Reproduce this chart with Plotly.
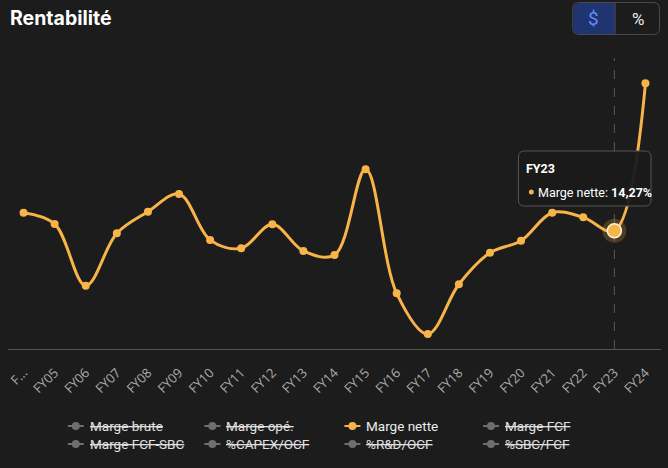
import plotly.graph_objects as go

# ---- data ----
categories = ["FY04", "FY05", "FY06", "FY07", "FY08", "FY09", "FY10", "FY11", "FY12", "FY13",
              "FY14", "FY15", "FY16", "FY17", "FY18", "FY19", "FY20", "FY21", "FY22", "FY23", "FY24"]
tick_labels = ["F..."] + categories[1:]
marge_nette = [16.45, 15.09, 7.64, 13.96, 16.57, 18.71, 13.16, 12.15, 15.05, 11.83,
               11.34, 21.69, 6.72, 1.81, 7.81, 11.62, 13.07, 16.45, 15.89, 14.27, 32.07]
legend_names = ["Marge brute", "Marge opé.", "Marge nette", "Marge FCF",
                "Marge FCF-SBC", "%CAPEX/OCF", "%R&D/OCF", "%SBC/FCF"]
legend_active = [False, False, True, False, False, False, False, False]
hover_cat = "FY23"
hover_label = "14,27%"

# ---- style ----
BG = "#1c1c1c"
ORANGE = "#f8b449"
W, H = 668, 468
ML, MR, MT, MB = 6, 7, 59, 119
PW, PH = W - ML - MR, H - MT - MB


def X(px):
    return (px - ML) / PW


def Y(py):
    return (H - MB - py) / PH


def rrect(x0, y0, x1, y1, r):
    return (f"M {X(x0 + r)},{Y(y0)} L {X(x1 - r)},{Y(y0)} Q {X(x1)},{Y(y0)} {X(x1)},{Y(y0 + r)} "
            f"L {X(x1)},{Y(y1 - r)} Q {X(x1)},{Y(y1)} {X(x1 - r)},{Y(y1)} "
            f"L {X(x0 + r)},{Y(y1)} Q {X(x0)},{Y(y1)} {X(x0)},{Y(y1 - r)} "
            f"L {X(x0)},{Y(y0 + r)} Q {X(x0)},{Y(y0)} {X(x0 + r)},{Y(y0)} Z")


fig = go.Figure()
fig.add_trace(go.Scatter(
    x=categories, y=marge_nette, mode="lines+markers",
    line=dict(color=ORANGE, width=3, shape="spline", smoothing=1),
    marker=dict(color=ORANGE, size=8), name="Marge nette", showlegend=False,
    hoverinfo="skip"))

hi = categories.index(hover_cat)
fig.add_trace(go.Scatter(
    x=[categories[hi]], y=[marge_nette[hi]], mode="markers",
    marker=dict(color="rgba(248,180,73,0.22)", size=24), showlegend=False, hoverinfo="skip"))
fig.add_trace(go.Scatter(
    x=[categories[hi]], y=[marge_nette[hi]], mode="markers",
    marker=dict(color=ORANGE, size=14, line=dict(color="#fff3dc", width=1.5)),
    showlegend=False, hoverinfo="skip"))

shapes = []
annotations = []

# hover dashed line
shapes.append(dict(type="line", xref="x", yref="paper", x0=hi, x1=hi, y0=0, y1=Y(58),
                   line=dict(color="#5a5a5a", width=1, dash="dash"), layer="below"))

# title
annotations.append(dict(text="<b>Rentabilité</b>", xref="paper", yref="paper", x=X(6), y=Y(18),
                        xanchor="left", yanchor="middle", showarrow=False,
                        font=dict(family="Inter", size=19.5, color="#ffffff")))

# $ / % buttons
shapes.append(dict(type="path", xref="paper", yref="paper", path=rrect(572.5, 2.5, 659.5, 34.5, 6),
                   line=dict(color="#4a4a4a", width=1), fillcolor=BG))
shapes.append(dict(type="path", xref="paper", yref="paper",
                   path=(f"M {X(579)},{Y(3)} L {X(615)},{Y(3)} L {X(615)},{Y(34)} L {X(579)},{Y(34)} "
                         f"Q {X(573)},{Y(34)} {X(573)},{Y(28)} L {X(573)},{Y(9)} Q {X(573)},{Y(3)} {X(579)},{Y(3)} Z"),
                   line=dict(width=0), fillcolor="#1f3470"))
shapes.append(dict(type="line", xref="paper", yref="paper", x0=X(615), x1=X(615), y0=Y(3), y1=Y(34),
                   line=dict(color="#4a4a4a", width=1)))
annotations.append(dict(text="$", xref="paper", yref="paper", x=X(593.5), y=Y(18.5),
                        xanchor="center", yanchor="middle", showarrow=False,
                        font=dict(family="Roboto", size=19, color="#5b8ef0")))
annotations.append(dict(text="%", xref="paper", yref="paper", x=X(637.5), y=Y(18.5),
                        xanchor="center", yanchor="middle", showarrow=False,
                        font=dict(family="Roboto", size=17, color="#e8e8e8")))

# tooltip
shapes.append(dict(type="path", xref="paper", yref="paper", path=rrect(518, 151, 651, 206, 6),
                   line=dict(color="#555555", width=1), fillcolor="rgba(26,26,26,0.95)"))
annotations.append(dict(text="<b>FY23</b>", xref="paper", yref="paper", x=X(524), y=Y(168),
                        xanchor="left", yanchor="middle", showarrow=False,
                        font=dict(family="Roboto", size=12.5, color="#ffffff")))
shapes.append(dict(type="circle", xref="paper", yref="paper", x0=X(528.5), x1=X(533.5),
                   y0=Y(189.5), y1=Y(194.5), line=dict(width=0), fillcolor=ORANGE))
annotations.append(dict(text=f"Marge nette: <b>{hover_label}</b>", xref="paper", yref="paper",
                        x=X(536), y=Y(192), xanchor="left", yanchor="middle", showarrow=False,
                        font=dict(family="Roboto", size=12.5, color="#ffffff")))

# custom legend
col_x = [74, 211, 351.5, 490.5]
row_y = [426, 444]
for i, (name, act) in enumerate(zip(legend_names, legend_active)):
    cx = col_x[i % 4]
    cy = row_y[i // 4]
    col = ORANGE if act else "#6e6e6e"
    shapes.append(dict(type="line", xref="paper", yref="paper", x0=X(cx - 8), x1=X(cx + 8),
                       y0=Y(cy), y1=Y(cy), line=dict(color=col, width=2)))
    shapes.append(dict(type="circle", xref="paper", yref="paper", x0=X(cx - 4), x1=X(cx + 4),
                       y0=Y(cy - 4), y1=Y(cy + 4), line=dict(width=0), fillcolor=col))
    txt = name if act else f"<s>{name}</s>"
    annotations.append(dict(text=txt, xref="paper", yref="paper", x=X(cx + 12), y=Y(cy),
                            xanchor="left", yanchor="middle", showarrow=False,
                            font=dict(family="Roboto", size=13.5,
                                      color="#ececec" if act else "#e0e0e0")))

fig.update_layout(
    width=W, height=H,
    margin=dict(l=ML, r=MR, t=MT, b=MB),
    paper_bgcolor=BG, plot_bgcolor=BG,
    showlegend=False,
    xaxis=dict(type="category", tickmode="array", tickvals=categories, ticktext=tick_labels,
               range=[-0.5, len(categories) - 0.5],
               tickangle=-45, showgrid=False, zeroline=False, showline=True,
               linecolor="#555555", linewidth=1, ticks="", ticklabelstandoff=10,
               tickfont=dict(family="Open Sans", size=13, color="#ababab")),
    yaxis=dict(range=[0, 35], visible=False, showgrid=False, zeroline=False),
    shapes=shapes, annotations=annotations,
)

fig.write_html("out.html")
